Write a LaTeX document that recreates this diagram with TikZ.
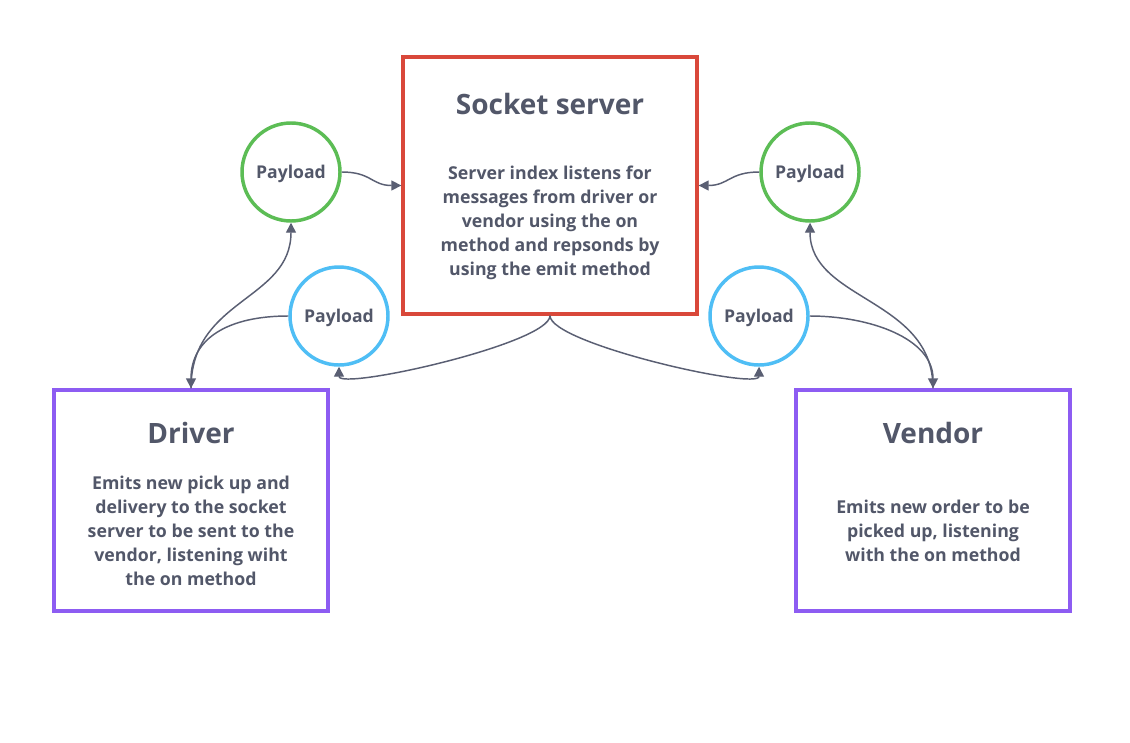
\documentclass[tikz,border=0pt]{standalone}
\usepackage{fontspec}
\setmainfont{Open Sans}
\usetikzlibrary{arrows.meta}
\definecolor{txt}{HTML}{525769}
\definecolor{redb}{HTML}{D9483A}
\definecolor{greenc}{HTML}{5CBD55}
\definecolor{bluec}{HTML}{4FBEF5}
\definecolor{purpb}{HTML}{8D5CF2}
\definecolor{arr}{HTML}{5A5F73}
\begin{document}
\begin{tikzpicture}[x=0.75pt,y=-0.75pt,
  box/.style={draw, line width=2.5pt, rectangle, inner sep=0pt},
  circ/.style={draw, line width=2.6pt, circle, inner sep=0pt, minimum size=98*0.75pt},
  ctext/.style={text=txt, font=\bfseries\fontsize{13.2}{15}\selectfont},
  ttl/.style={text=txt, font=\bfseries\fontsize{21}{24}\selectfont},
  body/.style={text=txt, align=center, font=\bfseries\fontsize{13.3}{18}\selectfont},
  con/.style={draw=arr, line width=1.1pt, -{Triangle[length=7.5pt,width=7.5pt]}}]
\useasboundingbox (0,0) rectangle (1130,742);
\fill[white] (0,0) rectangle (1130,742);
% boxes
\node[box, draw=redb, minimum width=294*0.75pt, minimum height=257*0.75pt] (server) at (550,185.5) {};
\node[box, draw=purpb, minimum width=274*0.75pt, minimum height=221*0.75pt] (driver) at (191,500.5) {};
\node[box, draw=purpb, minimum width=274*0.75pt, minimum height=221*0.75pt] (vendor) at (933,500.5) {};
% circles
\node[circ, draw=greenc] (gL) at (291,172) {};
\node[circ, draw=greenc] (gR) at (810,172) {};
\node[circ, draw=bluec] (bL) at (339,316) {};
\node[circ, draw=bluec] (bR) at (759,316) {};
\node[ctext] (gLt) at (291,174) {Payload};
\node[ctext] (gRt) at (810,174) {Payload};
\node[ctext] (bLt) at (339,318) {Payload};
\node[ctext] (bRt) at (759,318) {Payload};
% texts
\node[ttl] (serverT) at (550,104) {Socket server};
\node[body] (serverB) at (550,222.5) {Server index listens for\\messages from driver or\\vendor using the on\\method and repsonds by\\using the emit method};
\node[ttl] (driverT) at (191,433) {Driver};
\node[body] (driverB) at (191,531) {Emits new pick up and\\delivery to the socket\\server to be sent to the\\vendor, listening wiht\\the on method};
\node[ttl] (vendorT) at (933,433) {Vendor};
\node[body] (vendorB) at (933,531) {Emits new order to be\\picked up, listening\\with the on method};
% connectors
\draw[con] (gL.east) .. controls +(30,0) and +(-30,0) .. (server.west);
\draw[con] (gR.west) .. controls +(-30,0) and +(30,0) .. (server.east);
\draw[con] (driver.north) .. controls +(0,-90) and +(0,78) .. (gL.south);
\draw[con] (bL.west) .. controls +(-60,0) and +(0,-50) .. (driver.north);
\draw[con] (server.south) .. controls +(0,28) and +(0,24) .. (bL.south);
\draw[con] (server.south) .. controls +(0,28) and +(0,24) .. (bR.south);
\draw[con] (vendor.north) .. controls +(0,-90) and +(0,78) .. (gR.south);
\draw[con] (bR.east) .. controls +(60,0) and +(0,-50) .. (vendor.north);
\end{tikzpicture}
\end{document}
